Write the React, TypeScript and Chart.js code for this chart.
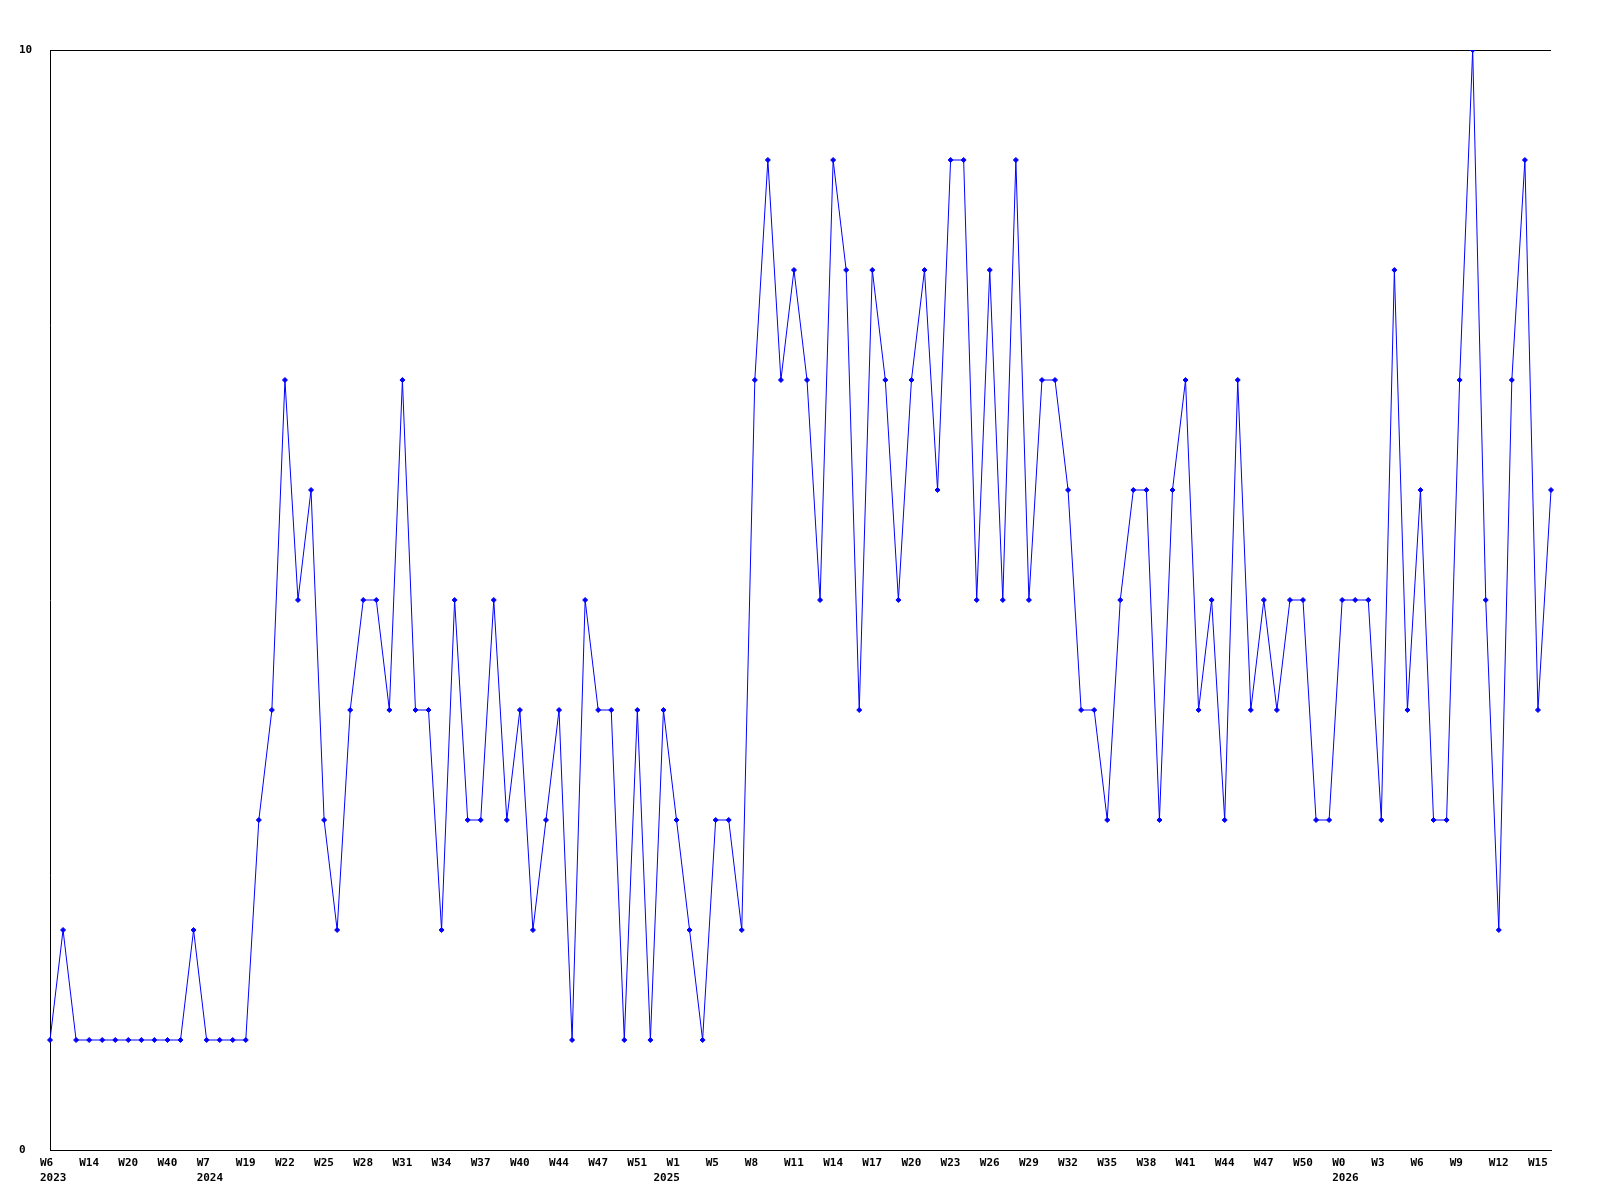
import React, { useEffect, useRef } from "react";
import { Chart, registerables } from "chart.js";

Chart.register(...registerables);

const weekLabels: string[] = [
  "W6", "W8", "W11", "W14", "W16", "W18", "W20", "W30", "W35", "W40", "W45", "W50",
  "W7", "W12", "W16", "W19", "W20", "W21", "W22", "W23", "W24", "W25", "W26", "W27",
  "W28", "W29", "W30", "W31", "W32", "W33", "W34", "W35", "W36", "W37", "W38", "W39",
  "W40", "W41", "W43", "W44", "W45", "W46", "W47", "W49", "W50", "W51", "W52", "W0",
  "W1", "W2", "W4", "W5", "W6", "W7", "W8", "W9", "W10", "W11", "W12", "W13",
  "W14", "W15", "W16", "W17", "W18", "W19", "W20", "W21", "W22", "W23", "W24", "W25",
  "W26", "W27", "W28", "W29", "W30", "W31", "W32", "W33", "W34", "W35", "W36", "W37",
  "W38", "W39", "W40", "W41", "W42", "W43", "W44", "W45", "W46", "W47", "W48", "W49",
  "W50", "W51", "W52", "W0", "W1", "W2", "W3", "W4", "W5", "W6", "W7", "W8",
  "W9", "W10", "W11", "W12", "W13", "W14", "W15", "W16",
];

// index of the first week of each year, and that year
const yearStartIndex: number[] = [0, 12, 47, 99];
const yearNames: string[] = ["2023", "2024", "2025", "2026"];

const counts: number[] = [
  1, 2, 1, 1, 1, 1, 1, 1, 1, 1, 1, 2,
  1, 1, 1, 1, 3, 4, 7, 5, 6, 3, 2, 4,
  5, 5, 4, 7, 4, 4, 2, 5, 3, 3, 5, 3,
  4, 2, 3, 4, 1, 5, 4, 4, 1, 4, 1, 4,
  3, 2, 1, 3, 3, 2, 7, 9, 7, 8, 7, 5,
  9, 8, 4, 8, 7, 5, 7, 8, 6, 9, 9, 5,
  8, 5, 9, 5, 7, 7, 6, 4, 4, 3, 5, 6,
  6, 3, 6, 7, 4, 5, 3, 7, 4, 5, 4, 5,
  5, 3, 3, 5, 5, 5, 3, 8, 4, 6, 3, 3,
  7, 10, 5, 2, 7, 9, 4, 6,
];

const yMin = 0;
const yMax = 10;
const labelEvery = 3;

export default function App() {
  const canvasRef = useRef<HTMLCanvasElement | null>(null);

  useEffect(() => {
    const canvas = canvasRef.current;
    if (!canvas) return;
    const font = { family: "'DejaVu Sans Mono', monospace", size: 11, weight: "bold" as const, lineHeight: 1.4 };
    const chart = new Chart(canvas, {
      type: "line",
      data: {
        labels: weekLabels,
        datasets: [
          {
            data: counts,
            borderColor: "#0000ff",
            backgroundColor: "#0000ff",
            borderWidth: 1,
            pointRadius: 2.5,
            pointStyle: "rectRot",
            pointBorderWidth: 1,
            tension: 0,
          },
        ],
      },
      options: {
        animation: false,
        responsive: false,
        layout: { padding: { left: 19, top: 50, right: 49, bottom: 0 } },
        plugins: { legend: { display: false }, tooltip: { enabled: false } },
        scales: {
          x: {
            type: "category",
            offset: false,
            grid: { display: false, drawTicks: false },
            border: { display: true, color: "#000000", width: 1 },
            afterFit: (scale: any) => {
              scale.height = 50;
            },
            ticks: {
              autoSkip: false,
              maxRotation: 0,
              minRotation: 0,
              align: "start",
              labelOffset: -10,
              padding: 5,
              color: "#000000",
              font,
              callback: (_v: any, index: number) => {
                const yi = yearStartIndex.indexOf(index);
                const showWeek = index % labelEvery === 0 && index < weekLabels.length - 1;
                const week = showWeek ? weekLabels[index] : "";
                if (yi >= 0) return [week, yearNames[yi]];
                return showWeek ? week : null;
              },
            },
          },
          y: {
            min: yMin,
            max: yMax,
            grid: { display: true, color: "#000000", lineWidth: 1, drawTicks: false },
            border: { display: true, color: "#000000", width: 1 },
            afterFit: (scale: any) => {
              scale.width = 31;
            },
            ticks: {
              stepSize: 10,
              crossAlign: "far",
              padding: 4,
              color: "#000000",
              font,
            },
          },
        },
      },
    });
    return () => chart.destroy();
  }, []);

  return (
    <div style={{ position: "absolute", left: 0, top: 0, width: 1600, height: 1200, background: "#ffffff" }}>
      <canvas ref={canvasRef} width={1600} height={1200} />
    </div>
  );
}
